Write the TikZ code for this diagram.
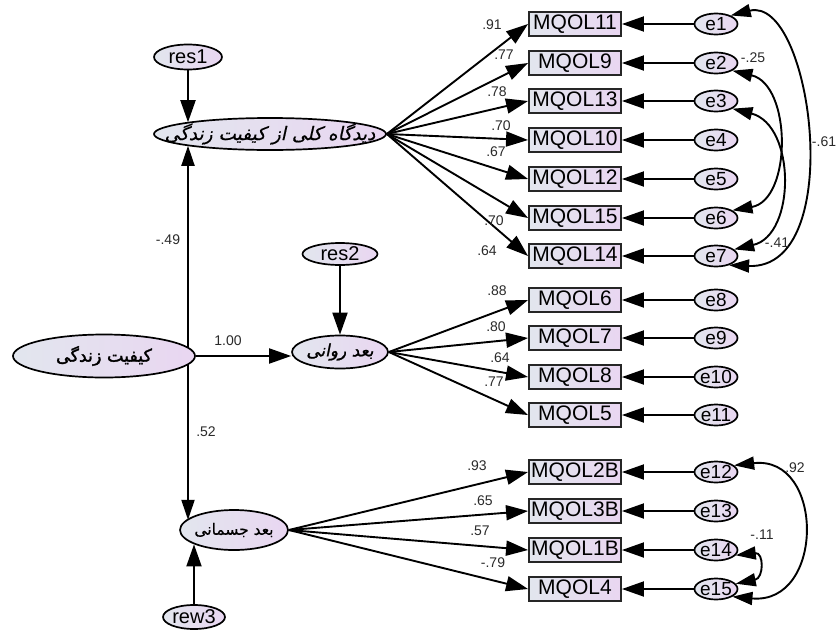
\documentclass[tikz,border=0pt]{standalone}
\usepackage{fontspec}
\setmainfont{Liberation Sans}
\newfontfamily\fa[Script=Arabic,FakeBold=0.6]{DejaVu Sans}
\newfontfamily\faslant[Script=Arabic,FakeSlant=0.22,FakeBold=0.6]{DejaVu Sans}
\newfontfamily\fabold[Script=Arabic,FakeBold=1.8]{DejaVu Sans}
\newfontfamily\faboldslant[Script=Arabic,FakeBold=1.2,FakeSlant=0.2]{DejaVu Sans}
\TeXXeTstate=1
\usetikzlibrary{arrows.meta,shapes.geometric}
\definecolor{cL}{HTML}{E2E6EE}
\definecolor{cR}{HTML}{E9D6F1}
\definecolor{lab}{HTML}{2A2A2A}
\tikzset{
  conn/.style={line width=1.9pt,-{Triangle[length=22pt,width=15pt]}},
  biconn/.style={line width=1.9pt,{Triangle[length=20pt,width=13pt]}-{Triangle[length=20pt,width=13pt]}},
  lat/.style={ellipse,draw=black,line width=1.7pt,left color=cL,right color=cR,inner sep=0pt},
  obs/.style={rectangle,draw=black!85,line width=1.9pt,left color=cL,right color=cR,
     minimum width=92pt,minimum height=24pt,inner sep=0pt,font=\fontsize{21}{23}\selectfont},
  err/.style={ellipse,draw=black,line width=1.7pt,left color=cL,right color=cR,inner sep=0pt,
     minimum width=43pt,minimum height=21pt,font=\fontsize{19}{21}\selectfont},
  lbl/.style={inner sep=0pt,text=lab,font=\fontsize{14}{16}\selectfont}
}
\begin{document}
\begin{tikzpicture}[x=1pt,y=-1pt]
\useasboundingbox[fill=white] (0,0) rectangle (838,632);
% latent / residual nodes
\node[lat,minimum width=68pt,minimum height=25pt,font=\fontsize{20}{22}\selectfont] (res1) at (188,57) {\makebox[0pt]{res1}};
\node[lat,minimum width=232pt,minimum height=32pt] (L1) at (270,134) {\makebox[0pt]{\faslant\fontsize{18.5}{20}\selectfont\beginR دیدگاه کلی از کیفیت زندگی\endR}};
\node[lat,minimum width=75pt,minimum height=22pt,font=\fontsize{20}{22}\selectfont] (res2) at (340,254) {\makebox[0pt]{res2}};
\node[lat,minimum width=96pt,minimum height=33pt] (L2) at (340,352) {\makebox[0pt]{\faboldslant\fontsize{17}{19}\selectfont\beginR بعد روانی\endR}};
\node[lat,minimum width=108pt,minimum height=40pt] (L3) at (234,530) {\makebox[0pt]{\fa\fontsize{15.5}{18}\selectfont\beginR بعد جسمانی\endR}};
\node[lat,minimum width=62pt,minimum height=24pt,font=\fontsize{20}{22}\selectfont] (rew3) at (194,617) {\makebox[0pt]{rew3}};
\coordinate (vx) at (188,0);
\draw[biconn] (vx |- L1.188) -- (vx |- L3.168);
\node[lat,minimum width=182pt,minimum height=43pt] (L0) at (104,356) {\makebox[0pt]{\fabold\fontsize{17.5}{20}\selectfont\beginR کیفیت زندگی\endR}};
% observed
\foreach \n/\t/\y in {m11/MQOL11/24, m9/MQOL9/63, m13/MQOL13/101, m10/MQOL10/140, m12/MQOL12/179, m15/MQOL15/218, m14/MQOL14/256,
  m6/MQOL6/300, m7/MQOL7/338, m8/MQOL8/377, m5/MQOL5/415,
  m2b/MQOL2B/472, m3b/MQOL3B/511, m1b/MQOL1B/550, m4/MQOL4/589}
  {\node[obs] (\n) at (575,\y) {\t};}
% errors
\foreach \n/\y in {1/24,2/63,3/101,4/140,5/179,6/218,7/256,8/300,9/338,10/377,11/415,12/472,13/511,14/550,15/589}
  {\node[err] (e\n) at (716,\y) {\makebox[0pt]{e\n}};}
% structural paths
\draw[conn] (res1) -- (res1 |- L1.172);
\draw[conn] (res2) -- (L2);
\draw[conn] (rew3) -- (rew3 |- L3.200);
\draw[conn] (L0.east) -- (L0.east -| L2.west);
% loadings
\foreach \m in {m11,m9,m13,m10,m12,m15,m14} {\draw[conn] (L1.east) -- (\m.west);}
\foreach \m in {m6,m7,m8,m5} {\draw[conn] (L2.east) -- (\m.west);}
\foreach \m in {m2b,m3b,m1b,m4} {\draw[conn] (L3.east) -- (\m.west);}
% error paths
\foreach \e/\m in {1/m11,2/m9,3/m13,4/m10,5/m12,6/m15,7/m14,8/m6,9/m7,10/m8,11/m5,12/m2b,13/m3b,14/m1b,15/m4}
  {\draw[conn] (e\e) -- (\m);}
% covariances
\draw[biconn] (e1.30) .. controls (812,-5) and (848,270) .. (e7.-35);
\draw[biconn] (e2.-25) .. controls (792,85) and (792,200) .. (e6.25);
\draw[biconn] (e3.-25) .. controls (796,125) and (796,235) .. (e7.20);
\draw[biconn] (e12.20) .. controls (825,455) and (825,605) .. (e15.-25);
\draw[biconn] (e14.-15) .. controls (764,552) and (764,578) .. (e15.15);
% labels
\node[lbl] (t1) at (168,240) {-.49};
\node[lbl] (t2) at (228,341) {1.00};
\node[lbl] (t3) at (206,432) {.52};
\node[lbl] (a1) at (492,25) {.91};
\node[lbl] (a2) at (504,55) {.77};
\node[lbl] (a3) at (497,92) {.78};
\node[lbl] (a4) at (501,126) {.70};
\node[lbl] (a5) at (496,152) {.67};
\node[lbl] (a6) at (494,221) {.70};
\node[lbl] (a7) at (487,251) {.64};
\node[lbl] (b1) at (497,291) {.88};
\node[lbl] (b2) at (496,327) {.80};
\node[lbl] (b3) at (500,358) {.64};
\node[lbl] (b4) at (494,382) {.77};
\node[lbl] (c1) at (477,466) {.93};
\node[lbl] (c2) at (483,501) {.65};
\node[lbl] (c3) at (480,531) {.57};
\node[lbl] (c4) at (493,563) {-.79};
\node[lbl] (d1) at (753,58) {-.25};
\node[lbl] (d2) at (824,142) {-.61};
\node[lbl] (d3) at (777,243) {-.41};
\node[lbl] (d4) at (795,468) {.92};
\node[lbl] (d5) at (762,535) {-.11};
\end{tikzpicture}
\end{document}
